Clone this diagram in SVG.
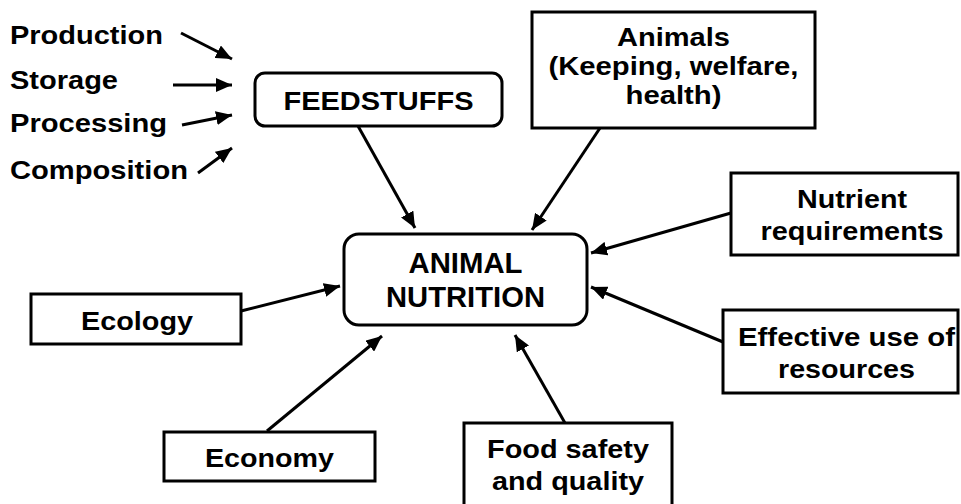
<svg xmlns="http://www.w3.org/2000/svg" width="961" height="504" viewBox="0 0 961 504">
<defs>
<marker id="ah" markerUnits="userSpaceOnUse" markerWidth="17" markerHeight="14" refX="16" refY="7" orient="auto">
<path d="M0,0 L16,7 L0,14 z" fill="#000"/>
</marker>
<style>
text{font-family:"Liberation Sans",Arial,Helvetica,sans-serif;font-weight:bold;font-size:25px;fill:#000}
.c{text-anchor:middle}
.big{font-size:29px}
.mid{font-size:26px}
.box{fill:#fff;stroke:#000;stroke-width:3}
.arr{stroke:#000;stroke-width:3;fill:none;marker-end:url(#ah)}
</style>
</defs>
<rect width="961" height="504" fill="#fff"/>
<g id="connectors">
<line class="arr" x1="181" y1="33" x2="232" y2="59"/>
<line class="arr" x1="173" y1="85" x2="232" y2="85"/>
<line class="arr" x1="182" y1="125" x2="232" y2="115"/>
<line class="arr" x1="198" y1="173" x2="232" y2="148"/>
<line class="arr" x1="358" y1="126" x2="415" y2="228"/>
<line class="arr" x1="600" y1="128" x2="532" y2="230"/>
<line class="arr" x1="731" y1="213" x2="591" y2="253"/>
<line class="arr" x1="723" y1="342" x2="591" y2="287"/>
<line class="arr" x1="241" y1="311" x2="340" y2="286"/>
<line class="arr" x1="267" y1="431" x2="382" y2="336"/>
<line class="arr" x1="565" y1="423" x2="515" y2="335"/>
</g>
<g id="inputs">
<text x="10" y="44" textLength="153" lengthAdjust="spacingAndGlyphs">Production</text>
<text x="10" y="89" textLength="108" lengthAdjust="spacingAndGlyphs">Storage</text>
<text x="10" y="132" textLength="157" lengthAdjust="spacingAndGlyphs">Processing</text>
<text x="10" y="179" textLength="178" lengthAdjust="spacingAndGlyphs">Composition</text>
</g>
<g id="feedstuffs">
<rect class="box" x="255" y="73" width="247" height="53" rx="10"/>
<text class="c mid" x="378.5" y="110" textLength="190" lengthAdjust="spacingAndGlyphs">FEEDSTUFFS</text>
</g>
<g id="animals">
<rect class="box" x="532" y="12" width="283" height="116"/>
<text class="c" x="673.5" y="46" textLength="113" lengthAdjust="spacingAndGlyphs">Animals</text>
<text class="c" x="673.5" y="75" textLength="250" lengthAdjust="spacingAndGlyphs">(Keeping, welfare,</text>
<text class="c" x="673.5" y="104" textLength="96" lengthAdjust="spacingAndGlyphs">health)</text>
</g>
<g id="animal-nutrition">
<rect class="box" x="344" y="234" width="243" height="91" rx="15"/>
<text class="c big" x="465.5" y="273" textLength="114" lengthAdjust="spacingAndGlyphs">ANIMAL</text>
<text class="c big" x="465.5" y="307" textLength="159" lengthAdjust="spacingAndGlyphs">NUTRITION</text>
</g>
<g id="nutrient">
<rect class="box" x="731" y="173" width="227" height="82"/>
<text class="c" x="852" y="208" textLength="110" lengthAdjust="spacingAndGlyphs">Nutrient</text>
<text class="c" x="852" y="240" textLength="183" lengthAdjust="spacingAndGlyphs">requirements</text>
</g>
<g id="effective">
<rect class="box" x="723" y="310" width="235" height="83"/>
<text class="c" x="846.5" y="346" textLength="217" lengthAdjust="spacingAndGlyphs">Effective use of</text>
<text class="c" x="846.5" y="378" textLength="137" lengthAdjust="spacingAndGlyphs">resources</text>
</g>
<g id="ecology">
<rect class="box" x="31" y="294" width="210" height="50"/>
<text class="c" x="137" y="330" textLength="112" lengthAdjust="spacingAndGlyphs">Ecology</text>
</g>
<g id="economy">
<rect class="box" x="164" y="432" width="211" height="49"/>
<text class="c" x="269.5" y="467" textLength="129" lengthAdjust="spacingAndGlyphs">Economy</text>
</g>
<g id="food-safety">
<rect class="box" x="464" y="423" width="208" height="84"/>
<text class="c" x="568" y="458" textLength="162" lengthAdjust="spacingAndGlyphs">Food safety</text>
<text class="c" x="568" y="490" textLength="152" lengthAdjust="spacingAndGlyphs">and quality</text>
</g>
</svg>
